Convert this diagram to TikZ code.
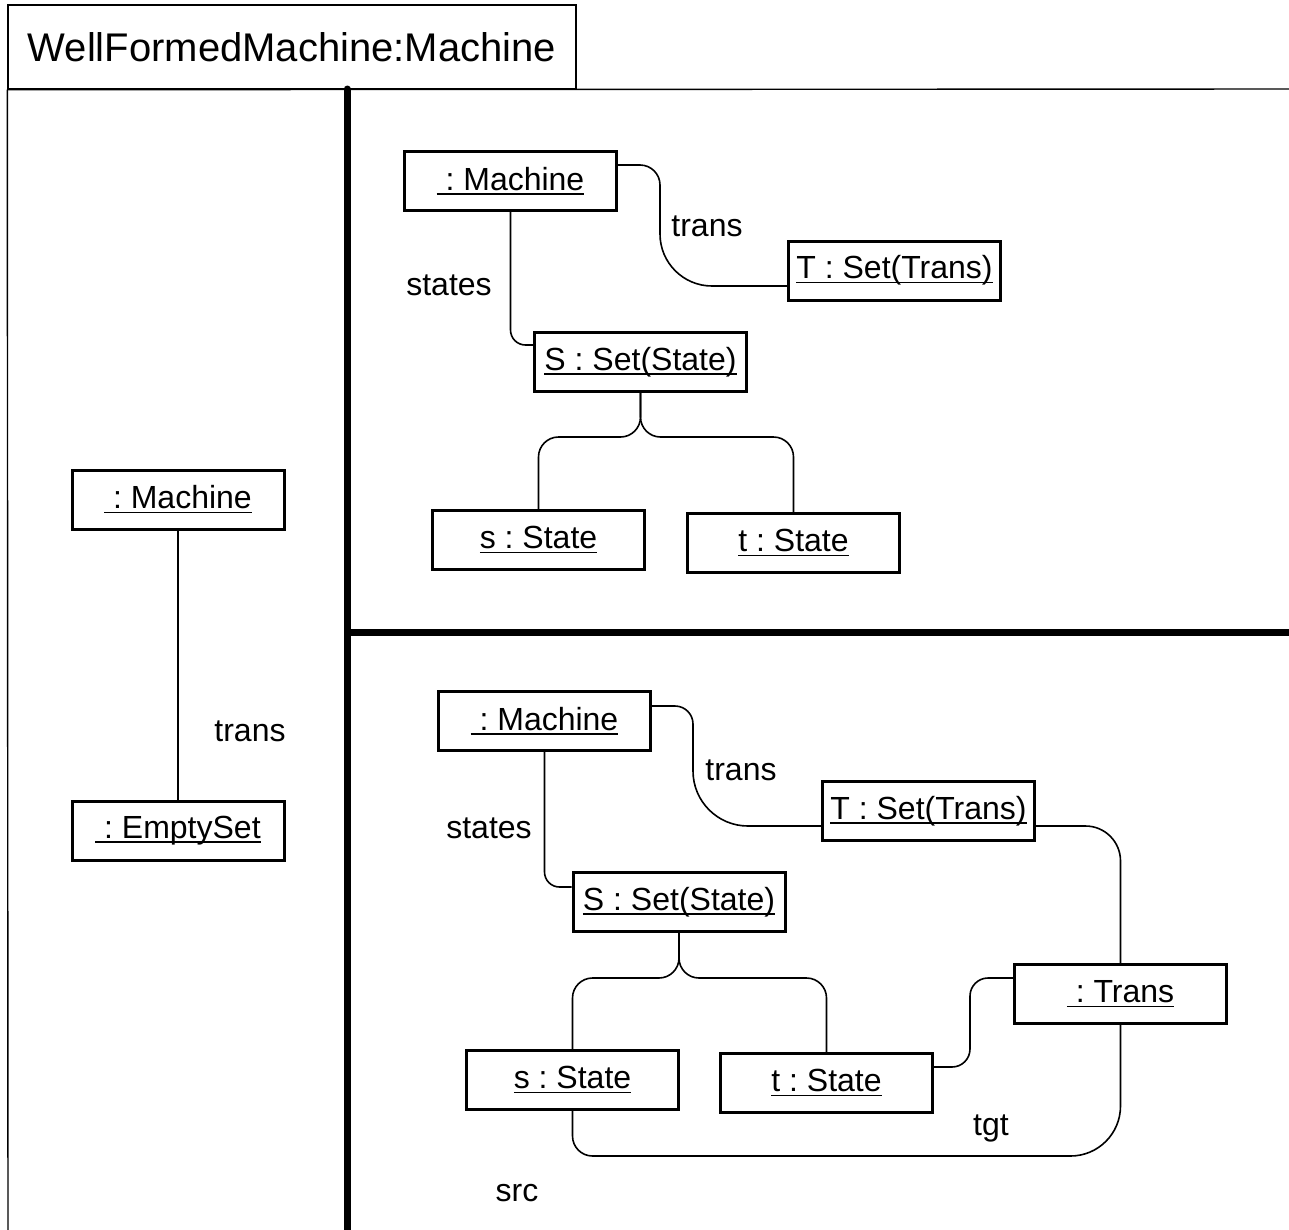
\documentclass[tikz,border=0pt]{standalone}
\usepackage{fontspec}
\setmainfont{Liberation Sans}
\usetikzlibrary{calc}

% object names: underlined at a fixed distance below the baseline
\newcommand\objname[1]{\setbox0\hbox{#1}\rlap{\rule[-4.5pt]{\wd0}{1.6pt}}\box0}

\begin{document}
\frenchspacing
\begin{tikzpicture}[x=1pt,y=-1pt,
  obj/.style={draw, line width=3pt, minimum width=212pt, minimum height=59pt,
              inner sep=0pt, font=\fontsize{32}{38}\selectfont\frenchspacing},
  lbl/.style={font=\fontsize{32}{38}\selectfont, inner sep=0pt},
  link/.style={line width=1.6pt},
  frame/.style={line width=1.4pt},
  divider/.style={line width=7pt}]
\useasboundingbox (0,0) rectangle (1289,1229);

% title compartment and outer frame
\node[draw, frame, minimum width=568pt, minimum height=84pt, inner sep=0pt,
      font=\fontsize{40}{48}\selectfont] (title) at (292,47) {WellFormedMachine:Machine};
\draw[frame] (title.south west) -- (8,1240);
\draw[frame] (title.south west) -- (1300,89);

% panel dividers
\draw[divider, line cap=round] (347,89) -- (347,1240);
\draw[divider] (347,632) -- (1300,632);

% left panel
\node[obj] (lm) at (178,499.5) {\objname{\ : Machine}};
\node[obj] (le) at (178,830.5) {\objname{\ : EmptySet}};
\draw[link] (lm.south) -- (le.north);
\node[lbl] (ltrans) at (250,731.5) {trans};

% upper right panel
\node[obj] (am) at (510.5,181) {\objname{\ : Machine}};
\node[obj] (aT) at (894.5,270.5) {\objname{T : Set(Trans)}};
\node[obj] (aS) at (640.5,362) {\objname{S : Set(State)}};
\node[obj] (as) at (538.5,540) {\objname{s : State}};
\node[obj] (at) at (793.5,543) {\objname{t : State}};

\draw[link] ($(am.east)+(0,-16)$) [rounded corners=20pt] -- (660,165)
  [rounded corners=52pt] -- (660,286) -- ($(aT.west)+(0,15.5)$);
\draw[link] (am.south) [rounded corners=15pt] -- (510.5,345) -- ($(aS.west)+(0,-17)$);
\draw[link] (aS.south) [rounded corners=20pt] -- (640.5,437) -- (538.5,437) -- (as.north);
\draw[link] (aS.south) [rounded corners=20pt] -- (640.5,437) -- (793.5,437) -- (at.north);
\node[lbl] (atrans) at (707,226) {trans};
\node[lbl] (astates) at (449,285.5) {states};

% lower right panel
\node[obj] (bm) at (544.5,721) {\objname{\ : Machine}};
\node[obj] (bT) at (928.5,811) {\objname{T : Set(Trans)}};
\node[obj] (bS) at (679,902) {\objname{S : Set(State)}};
\node[obj] (btr) at (1120.5,994) {\objname{\ : Trans}};
\node[obj] (bs) at (572.5,1080) {\objname{s : State}};
\node[obj] (bt) at (826.5,1083) {\objname{t : State}};

\draw[link] ($(bm.east)+(0,-15)$) [rounded corners=18pt] -- (693,706)
  [rounded corners=55pt] -- (693,826) -- ($(bT.west)+(0,15)$);
\draw[link] (bm.south) [rounded corners=15pt] -- (544.5,887) -- ($(bS.west)+(0,-15)$);
\draw[link] ($(bT.east)+(0,15)$) [rounded corners=35pt] -- (1120.5,826) -- (btr.north);
\draw[link] (bS.south) [rounded corners=20pt] -- (679,978) -- (572.5,978) -- (bs.north);
\draw[link] (bS.south) [rounded corners=20pt] -- (679,978) -- (826.5,978) -- (bt.north);
\draw[link] ($(bt.east)+(0,-16)$) [rounded corners=18pt] -- (970,1067) -- (970,978)
  -- ($(btr.west)+(0,-16)$);
\draw[link] (bs.south) [rounded corners=20pt] -- (572.5,1156)
  [rounded corners=50pt] -- (1120.5,1156) -- (btr.south);
\node[lbl] (btrans) at (741,770) {trans};
\node[lbl] (bstates) at (489,828) {states};
\node[lbl] (btgt) at (991,1128) {tgt};
\node[lbl] (bsrc) at (517,1193) {src};
\end{tikzpicture}
\end{document}
